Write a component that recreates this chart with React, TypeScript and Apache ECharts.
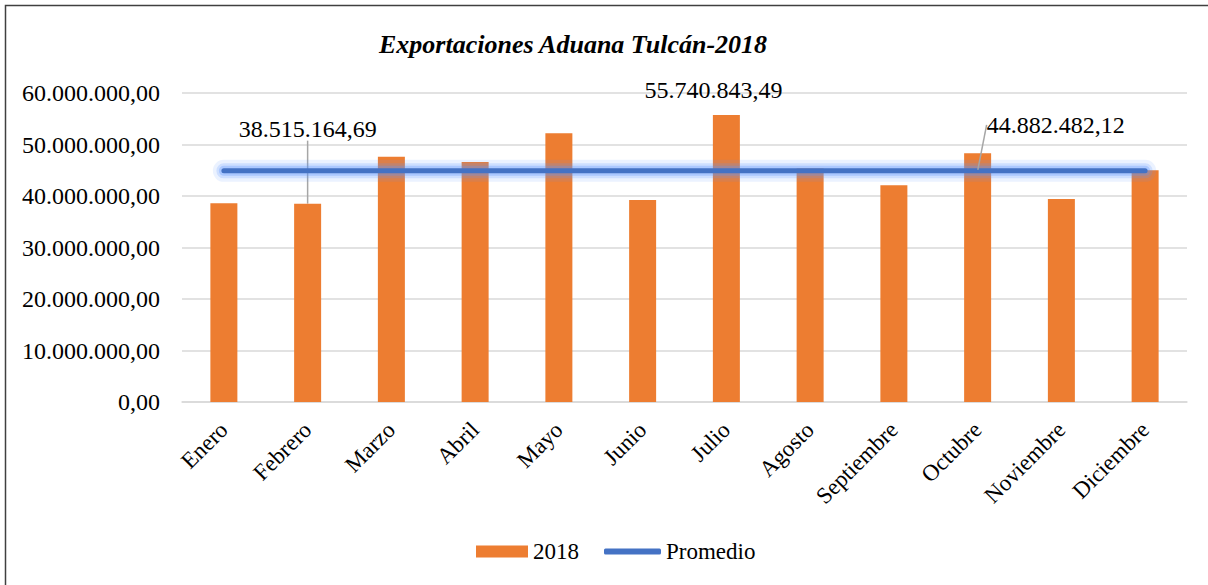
import React, { useEffect, useRef } from "react";
import * as echarts from "echarts";

const categories = [
  "Enero", "Febrero", "Marzo", "Abril", "Mayo", "Junio",
  "Julio", "Agosto", "Septiembre", "Octubre", "Noviembre", "Diciembre",
];
const exports2018 = [
  38600000, 38515164.69, 47600000, 46600000, 52200000, 39200000,
  55740843.49, 45330000, 42100000, 48300000, 39400000, 45000000,
];
const promedio = 44882482.12;
const promedioValues = categories.map(() => promedio);
const yTicks = { min: 0, max: 60000000, interval: 10000000 };

const FONT = "Liberation Serif";

function fmt(v: number): string {
  const [i, d] = v.toFixed(2).split(".");
  return i.replace(/\B(?=(\d{3})+(?!\d))/g, ".") + "," + d;
}

export default function App() {
  const ref = useRef<HTMLDivElement>(null);
  useEffect(() => {
    if (!ref.current) return;
    const chart = echarts.init(ref.current, null, { renderer: "svg" });
    const labeledBars = [1, 6];
    const glow = (w: number, a: number) => ({
      type: "line",
      silent: true,
      z: 4,
      symbol: "none",
      lineStyle: { color: `rgba(90,150,255,${a})`, width: w, cap: "round" },
      data: promedioValues,
      tooltip: { show: false },
    });
    chart.setOption({
      animation: false,
      backgroundColor: "#ffffff",
      graphic: [
        {
          type: "rect",
          silent: true,
          z: -10,
          shape: { x: 5.5, y: 5.5, width: 1230, height: 620 },
          style: { fill: "none", stroke: "#404040", lineWidth: 1.5 },
        },
      ],
      title: {
        text: "Exportaciones Aduana Tulcán-2018",
        left: 374,
        top: 26,
        textStyle: {
          fontFamily: FONT,
          fontSize: 26,
          fontWeight: "bold",
          fontStyle: "italic",
          color: "#000",
        },
      },
      grid: { left: 182, right: 21, top: 93, bottom: 183, containLabel: false },
      legend: [
        {
          left: 471,
          top: 535,
          itemWidth: 52,
          itemHeight: 12,
          textStyle: { fontFamily: FONT, fontSize: 23, color: "#000" },
          data: [{ name: "2018", icon: "rect" }],
        },
        {
          left: 599,
          top: 535,
          itemWidth: 57,
          itemHeight: 6,
          textStyle: { fontFamily: FONT, fontSize: 23, color: "#000" },
          data: [{ name: "Promedio", icon: "roundRect" }],
        },
      ],
      xAxis: {
        type: "category",
        data: categories,
        axisLine: { lineStyle: { color: "#D9D9D9", width: 1.5 } },
        axisTick: { show: false },
        axisLabel: {
          rotate: 45,
          interval: 0,
          margin: 24,
          fontFamily: FONT,
          fontSize: 23,
          color: "#000",
        },
      },
      yAxis: {
        type: "value",
        min: yTicks.min,
        max: yTicks.max,
        interval: yTicks.interval,
        axisLine: { show: false },
        axisTick: { show: false },
        splitLine: { lineStyle: { color: "#D9D9D9", width: 1.5 } },
        axisLabel: {
          margin: 22,
          fontFamily: FONT,
          fontSize: 24,
          color: "#000",
          formatter: (v: number) => fmt(v),
        },
      },
      series: [
        {
          name: "2018",
          type: "bar",
          barWidth: 27,
          itemStyle: { color: "#ED7D31" },
          z: 2,
          data: exports2018.map((v, i) =>
            labeledBars.includes(i)
              ? {
                  value: v,
                  label: {
                    show: true,
                    position: "top",
                    formatter: () => fmt(v),
                    fontFamily: FONT,
                    fontSize: 24,
                    color: "#000",
                  },
                  labelLine: {
                    show: i === 1,
                    length2: 0,
                    lineStyle: { color: "#A6A6A6", width: 1.5 },
                  },
                }
              : v
          ),
          labelLayout: (p: any) => {
            if (p.dataIndex === 1) return { dy: -58 };
            if (p.dataIndex === 6) return { dx: -13, dy: -8 };
            return {};
          },
        },
        glow(22, 0.12),
        glow(15, 0.2),
        glow(10, 0.3),
        {
          name: "Promedio",
          type: "line",
          z: 5,
          symbol: "none",
          showSymbol: true,
          lineStyle: { color: "#4472C4", width: 5, cap: "round" },
          itemStyle: { color: "#4472C4" },
          data: promedioValues.map((v, i) =>
            i === 9
              ? {
                  value: v,
                  symbol: "circle",
                  symbolSize: 2,
                  label: {
                    show: true,
                    position: "top",
                    formatter: () => fmt(v),
                    fontFamily: FONT,
                    fontSize: 24,
                    color: "#000",
                  },
                  labelLine: {
                    show: true,
                    length2: 0,
                    lineStyle: { color: "#A6A6A6", width: 1.5 },
                  },
                }
              : v
          ),
          labelLayout: { dx: 78, dy: -28 },
        },
      ],
    });
    return () => chart.dispose();
  }, []);
  return (
    <div
      ref={ref}
      style={{ position: "fixed", left: 0, top: 0, width: 1208, height: 585 }}
    />
  );
}
